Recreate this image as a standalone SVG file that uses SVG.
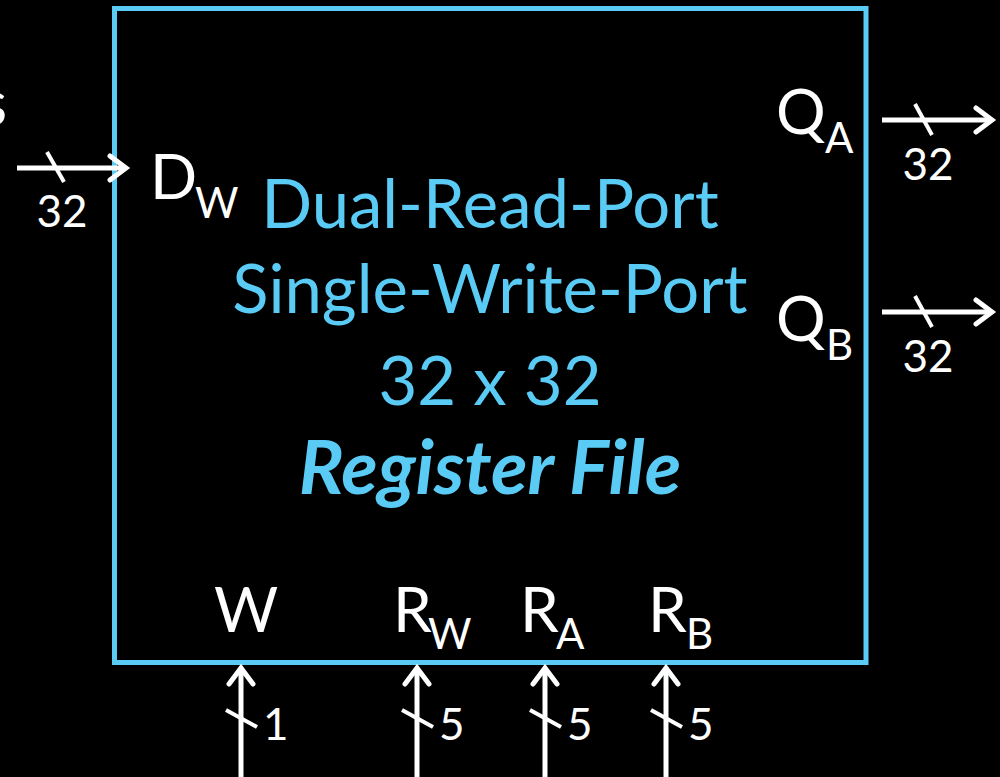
<svg xmlns="http://www.w3.org/2000/svg" width="1000" height="777" viewBox="0 0 1000 777">
<style>
.bg{fill:#000}
.box{fill:none;stroke:#5ACBF5;stroke-width:5}
.main{font-family:Lato,"Open Sans",sans-serif;font-size:67px;fill:#5ACBF5;text-anchor:middle}
.title{font-size:75px;font-weight:bold;font-style:italic}
.lbl{font-family:Lato,"Open Sans",sans-serif;font-size:62px;fill:#fff}
.sub{font-family:Lato,"Open Sans",sans-serif;font-size:42px;fill:#fff}
.num{font-family:Lato,"Open Sans",sans-serif;font-size:44px;fill:#fff}
.wire{stroke:#fff;stroke-width:5;fill:none;stroke-linecap:butt}
.head{stroke:#fff;stroke-width:5;fill:none;stroke-linecap:round;stroke-linejoin:miter}
.slash{stroke:#fff;stroke-width:4;fill:none}
</style>
<rect class="bg" x="0" y="0" width="1000" height="777"/>
<g id="regfile">
<rect class="box" x="114.5" y="8.5" width="751.5" height="654"/>
<text class="main" x="490" y="228">Dual-Read-Port</text>
<text class="main" x="490" y="313">Single-Write-Port</text>
<text class="main" x="490" y="405">32 x 32</text>
<text class="main title" x="490" y="494">Register File</text>
</g>
<g id="port-labels">
<text class="lbl" x="150" y="199">D</text><text class="sub" x="195" y="218">W</text>
<text class="lbl" x="776" y="134">Q</text><text class="sub" x="825" y="153">A</text>
<text class="lbl" x="776" y="341">Q</text><text class="sub" x="826" y="360">B</text>
<text class="lbl" x="246" y="632" text-anchor="middle">W</text>
<text class="lbl" x="393" y="632">R</text><text class="sub" x="428" y="649">W</text>
<text class="lbl" x="520" y="632">R</text><text class="sub" x="556" y="649">A</text>
<text class="lbl" x="648" y="632">R</text><text class="sub" x="686" y="649">B</text>
<text class="lbl" x="7" y="125" text-anchor="end">s</text>
</g>
<g id="connectors">
<line class="wire" x1="17" y1="168" x2="125" y2="168"/>
<polyline class="head" points="110,156 126,168 110,180"/>
<line class="slash" x1="47" y1="152" x2="64" y2="182"/>
<text class="num" x="62" y="227" text-anchor="middle">32</text>

<line class="wire" x1="882" y1="120" x2="991" y2="120"/>
<polyline class="head" points="976,108 992,120 976,132"/>
<line class="slash" x1="915" y1="104" x2="932" y2="135"/>
<text class="num" x="928" y="180" text-anchor="middle">32</text>

<line class="wire" x1="882" y1="312" x2="991" y2="312"/>
<polyline class="head" points="976,300 992,312 976,324"/>
<line class="slash" x1="915" y1="296" x2="932" y2="327"/>
<text class="num" x="928" y="372" text-anchor="middle">32</text>

<line class="wire" x1="241" y1="777" x2="241" y2="670"/>
<polyline class="head" points="229,684 241,668 253,684"/>
<line class="slash" x1="226" y1="710" x2="257" y2="727"/>
<text class="num" x="263" y="740">1</text>

<line class="wire" x1="417" y1="777" x2="417" y2="670"/>
<polyline class="head" points="405,684 417,668 429,684"/>
<line class="slash" x1="402" y1="710" x2="433" y2="727"/>
<text class="num" x="439" y="740">5</text>

<line class="wire" x1="545" y1="777" x2="545" y2="670"/>
<polyline class="head" points="533,684 545,668 557,684"/>
<line class="slash" x1="530" y1="710" x2="561" y2="727"/>
<text class="num" x="567" y="740">5</text>

<line class="wire" x1="666" y1="777" x2="666" y2="670"/>
<polyline class="head" points="654,684 666,668 678,684"/>
<line class="slash" x1="651" y1="710" x2="682" y2="727"/>
<text class="num" x="688" y="740">5</text>
</g>
</svg>
